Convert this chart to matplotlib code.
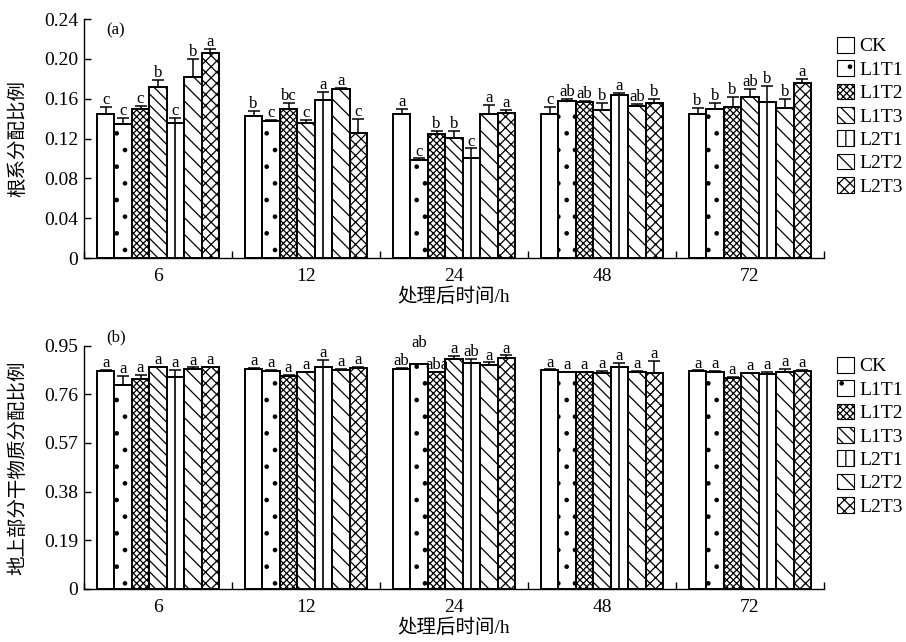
import matplotlib
matplotlib.use("Agg")
import matplotlib.pyplot as plt
from matplotlib.patches import Patch
import numpy as np

plt.rcParams["font.family"] = ["Liberation Serif", "Noto Sans CJK SC"]
plt.rcParams["hatch.linewidth"] = 0.9

times = ["6", "12", "24", "48", "72"]
treatments = ["CK", "L1T1", "L1T2", "L1T3", "L2T1", "L2T2", "L2T3"]

# root allocation ratio: rows = time after treatment, cols = treatment
root_mean = np.array([
    [0.145, 0.135, 0.150, 0.172, 0.136, 0.182, 0.206],
    [0.143, 0.138, 0.150, 0.136, 0.159, 0.170, 0.126],
    [0.145, 0.098, 0.125, 0.121, 0.100, 0.145, 0.146],
    [0.145, 0.158, 0.157, 0.149, 0.164, 0.153, 0.156],
    [0.145, 0.150, 0.152, 0.162, 0.157, 0.151, 0.176],
])
root_err = np.array([
    [0.007, 0.006, 0.003, 0.007, 0.005, 0.018, 0.004],
    [0.005, 0.001, 0.006, 0.003, 0.008, 0.001, 0.014],
    [0.005, 0.002, 0.003, 0.007, 0.010, 0.009, 0.003],
    [0.007, 0.0015, 0.0005, 0.007, 0.002, 0.002, 0.004],
    [0.006, 0.006, 0.010, 0.008, 0.016, 0.009, 0.0035],
])
root_letters = [
    ["c", "c", "c", "b", "c", "b", "a"],
    ["b", "c", "bc", "c", "a", "a", "c"],
    ["a", "c", "b", "b", "c", "a", "a"],
    ["c", "ab", "ab", "b", "a", "ab", "b"],
    ["b", "b", "b", "ab", "b", "b", "a"],
]

# above-ground dry matter allocation ratio
shoot_mean = np.array([
    [0.852, 0.795, 0.819, 0.866, 0.829, 0.860, 0.866],
    [0.860, 0.852, 0.832, 0.846, 0.866, 0.855, 0.864],
    [0.858, 0.877, 0.847, 0.899, 0.881, 0.875, 0.903],
    [0.855, 0.848, 0.846, 0.842, 0.866, 0.848, 0.842],
    [0.851, 0.848, 0.825, 0.844, 0.841, 0.848, 0.851],
])
shoot_err = np.array([
    [0.003, 0.036, 0.016, 0.002, 0.025, 0.005, 0.002],
    [0.004, 0.002, 0.005, 0.002, 0.029, 0.004, 0.003],
    [0.004, 0.002, 0.001, 0.012, 0.016, 0.010, 0.009],
    [0.002, 0.001, 0.003, 0.008, 0.016, 0.003, 0.049],
    [0.002, 0.002, 0.002, 0.001, 0.008, 0.010, 0.004],
])
shoot_letters = [
    ["a"] * 7,
    ["a"] * 7,
    ["ab", "ab", "aba", "a", "ab", "a", "a"],
    ["a"] * 7,
    ["a"] * 7,
]

root_ticks = [0, 0.04, 0.08, 0.12, 0.16, 0.20, 0.24]
root_ticklabels = ["0", "0.04", "0.08", "0.12", "0.16", "0.20", "0.24"]
shoot_ticks = [0, 0.19, 0.38, 0.57, 0.76, 0.95]
shoot_ticklabels = ["0", "0.19", "0.38", "0.57", "0.76", "0.95"]

hatches = [None, ".", "xxxxx", "\\\\\\", None, "\\\\", "xxx"]
legend_hatches = [None, ".", "xxxxx", "\\\\\\", "||", "\\\\", "xxx"]
BAR_W = 0.118


def draw_panel(ax, means, errs, letters, ticks, ticklabels, ylabel, tag, raised=()):
    n = len(treatments)
    for j, name in enumerate(treatments):
        x = np.arange(len(times)) + 0.5 + (j - (n - 1) / 2) * BAR_W
        ax.bar(x, means[:, j], BAR_W, color="white", edgecolor="black",
               linewidth=1.4, hatch=hatches[j], zorder=2)
        if name == "L2T1":
            ax.vlines(x, 0, means[:, j], color="black", lw=1.2, zorder=3)
        ax.errorbar(x, means[:, j], yerr=[np.zeros(len(times)), errs[:, j]],
                    fmt="none", ecolor="black", elinewidth=1.1,
                    capsize=4.5, capthick=1.1, zorder=3)
        for i in range(len(times)):
            lift = 12 if (i, j) in raised else 2
            ax.annotate(letters[i][j], (x[i], means[i, j] + errs[i, j]),
                        xytext=(0, lift), textcoords="offset points",
                        ha="center", va="baseline", fontsize=12)

    ax.set_xlim(0, len(times))
    ax.set_ylim(0, ticks[-1])
    ax.spines["top"].set_visible(False)
    ax.spines["right"].set_visible(False)
    for s in ("left", "bottom"):
        ax.spines[s].set_linewidth(1.0)

    ax.set_xticks(np.arange(len(times)) + 0.5)
    ax.set_xticklabels(times)
    ax.set_xticks(np.arange(len(times) + 1), minor=True)
    ax.tick_params(axis="x", which="major", length=0, pad=7, labelsize=14)
    ax.tick_params(axis="x", which="minor", direction="in", length=5, width=1.0)
    ax.set_yticks(ticks)
    ax.set_yticklabels(ticklabels)
    ax.tick_params(axis="y", direction="in", length=5, width=1.0, pad=4, labelsize=14)

    ax.set_xlabel("处理后时间/h", fontsize=14, labelpad=2)
    ax.set_ylabel(ylabel, fontsize=14)
    ax.yaxis.set_label_coords(-0.077, 0.5)
    ax.text(0.043, tag[1], tag[0], transform=ax.transAxes, ha="center",
            va="center", fontsize=12)


fig = plt.figure(figsize=(9.06, 6.42), dpi=100)
ax_a = fig.add_axes([0.0927, 0.5981, 0.8168, 0.3723])
ax_b = fig.add_axes([0.0927, 0.0826, 0.8168, 0.3790])

draw_panel(ax_a, root_mean, root_err, root_letters, root_ticks, root_ticklabels,
           "根系分配比例", ("(a)", 0.954))
draw_panel(ax_b, shoot_mean, shoot_err, shoot_letters, shoot_ticks, shoot_ticklabels,
           "地上部分干物质分配比例", ("(b)", 1.036), raised={(2, 1)})

handles = [Patch(facecolor="white", edgecolor="black", linewidth=0.8, hatch=h)
           for h in legend_hatches]
for top in (37, 357):
    fig.legend(handles, treatments, loc="upper left",
               bbox_to_anchor=(837 / 906, 1 - top / 642), bbox_transform=fig.transFigure,
               frameon=False, borderpad=0, borderaxespad=0, fontsize=14,
               handlelength=0.85, handleheight=0.85, handletextpad=0.3,
               labelspacing=0.25)

fig.savefig("out.png", dpi=100)
